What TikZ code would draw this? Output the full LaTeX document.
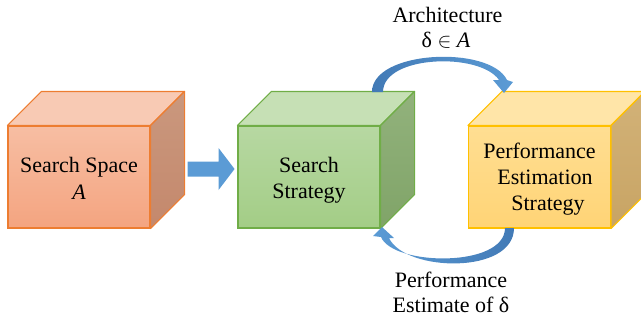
\documentclass[tikz,border=0pt]{standalone}
\usepackage{fontspec}
\setmainfont{Liberation Serif}
% face colours of the three cubes
\definecolor{orTop}{RGB}{248,202,180}
\definecolor{orFrontA}{RGB}{247,190,163}
\definecolor{orFrontB}{RGB}{244,164,128}
\definecolor{orSideA}{RGB}{202,152,126}
\definecolor{orSideB}{RGB}{196,136,108}
\definecolor{orLine}{RGB}{237,125,49}
\definecolor{grTop}{RGB}{198,224,181}
\definecolor{grFrontA}{RGB}{183,216,162}
\definecolor{grFrontB}{RGB}{163,205,134}
\definecolor{grSideA}{RGB}{146,178,124}
\definecolor{grSideB}{RGB}{128,164,104}
\definecolor{grLine}{RGB}{112,173,71}
\definecolor{yeTop}{RGB}{255,229,168}
\definecolor{yeFrontA}{RGB}{255,222,146}
\definecolor{yeFrontB}{RGB}{255,212,118}
\definecolor{yeSideA}{RGB}{210,178,120}
\definecolor{yeSideB}{RGB}{200,164,100}
\definecolor{yeLine}{RGB}{255,192,0}
\definecolor{arrowblue}{RGB}{91,155,213}
\definecolor{arrowdark}{RGB}{66,122,182}
% a cube: front face as a node, then top and right faces behind it
\newcommand\drawcube[3]{%
  \node[face=#3Line, top color=#3FrontA, bottom color=#3FrontB] (#1) at (#2,177) {};
  \path[draw=#3Line, fill=#3Top, line width=1.1pt, line join=round]
    (#1.north west) -- (#1.north east) -- ++(34,-34)
    -- ([shift={(34,-34)}]#1.north west) -- cycle;
  \path[draw=#3Line, top color=#3SideA, bottom color=#3SideB, line width=1.1pt, line join=round]
    (#1.north east) -- (#1.south east) -- ++(34,-34)
    -- ([shift={(34,-34)}]#1.north east) -- cycle;
}
\begin{document}
\begin{tikzpicture}[x=1pt,y=-1pt,
  lbl/.style={font=\fontsize{22}{26}\selectfont, inner sep=0pt, anchor=base},
  face/.style={draw=#1, line width=1.1pt, minimum width=142pt,
    minimum height=102pt, inner sep=0pt}]
\useasboundingbox (0,0) rectangle (641,322);

\drawcube{space}{79}{or}
\drawcube{strategy}{309}{gr}
\drawcube{estim}{539.5}{ye}

% labels on the front faces
\node[lbl] (t1a) at (79,172) {Search Space};
\node[lbl] (t1b) at (79,199) {\itshape A};
\node[lbl] (t2a) at (309,172) {Search};
\node[lbl] (t2b) at (309,198) {Strategy};
\node[lbl] (t3a) at (539.5,158) {Performance};
\node[lbl] (t3b) at (545,184) {Estimation};
\node[lbl] (t3c) at (548,210) {Strategy};

% block arrow from the search space to the search strategy
\coordinate (fa) at ([shift={(37,-15.5)}]space.east);
\fill[arrowblue] (fa) -- ++(31,0) -- ++(0,-13.5) -- ++(16,21) -- ++(-16,21)
  -- ++(0,-13.5) -- ++(-31,0) -- cycle;

% curved arrow: architecture handed to the estimation strategy
\path[left color=arrowdark, right color=arrowblue]
  (372,92) .. controls (372,50) and (490,45) .. (507,80)
  -- (513,82) -- (504,93) -- (493,80) -- (499,80)
  .. controls (480,52) and (383,55) .. (383,92) -- cycle;

% curved arrow: performance estimate returned to the search strategy
\path[left color=arrowblue, right color=arrowdark]
  (514,228) .. controls (514,275) and (405,272) .. (389,238)
  -- (394,238) -- (382,227) -- (373,236) -- (381,237)
  .. controls (393,266) and (505,268) .. (505,228) -- cycle;

% loop labels
\node[lbl] (archa) at (447.5,22) {Architecture};
\node[lbl] (archb) at (446,47) {δ $\in$ \textit{A}};
\node[lbl] (perfa) at (451,287) {Performance};
\node[lbl] (perfb) at (451,312) {Estimate of δ};
\end{tikzpicture}
\end{document}
